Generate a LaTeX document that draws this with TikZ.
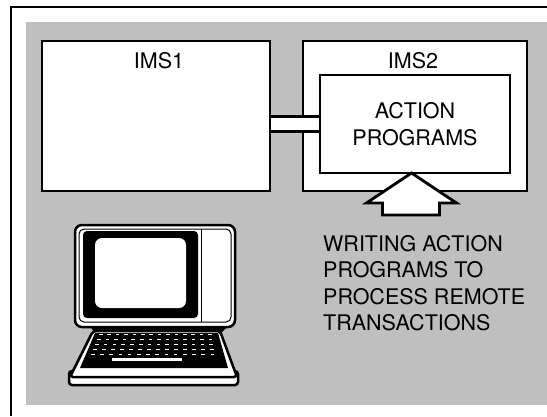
\documentclass[tikz,border=0pt]{standalone}
\usepackage{fontspec}
\setmainfont{TeX Gyre Heros}

\begin{document}
\begin{tikzpicture}[x=1pt,y=-1pt,
    box/.style={draw,fill=white,line width=2.8pt,inner sep=0pt,outer sep=0pt},
    lbl/.style={inner sep=0pt,font=\fontsize{21.5}{26.5}\selectfont},
    blockarrow/.style={draw,fill=white,line width=2.8pt,line join=miter},
  ]
    \useasboundingbox (0,0) rectangle (547,416);

    % screened panel and corner rule
    \fill[gray!50] (26,22) rectangle (547,405);
    \draw[line width=2pt] (11,416) -- (11,7) -- (547,7);

    \node (ims1) [box,minimum width=228pt,minimum height=150pt] at (156,116) {};
    \node (ims2) [box,minimum width=224pt,minimum height=150pt] at (415,116) {};
    \node (action) [box,lbl,align=center,minimum width=190pt,minimum height=98pt] at (415,124) {ACTION\\PROGRAMS};

    \node (ims1lbl) [lbl,anchor=north] at ([xshift=3pt,yshift=-11pt]ims1.north) {IMS1};
    \node (ims2lbl) [lbl,anchor=north] at ([xshift=-2pt,yshift=-11pt]ims2.north) {IMS2};

    % link from IMS1 into the action programs
    \coordinate (bar) at (0,124);
    \draw[line width=2.8pt,double=white,double distance=12.5pt,shorten <=1.4pt,shorten >=1.4pt]
      (ims1.east |- bar) -- (action.west |- bar);

    \node (caption) [lbl,anchor=north west,align=left] at (323,235)
      {WRITING ACTION\\PROGRAMS TO\\PROCESS REMOTE\\TRANSACTIONS};

    \coordinate (tip) at ([xshift=-3.5pt]action.south);
    \draw[blockarrow] (tip) -- ++(45,30) -- ++(-17,0) -- ++(0,12) -- ++(-57,0)
      -- ++(0,-12) -- ++(-16,0) -- cycle;

    % terminal
    \draw[line width=2.5pt,fill=white,rounded corners=7pt] (75,225) rectangle (235,327);
    \draw[line width=1pt,rounded corners=5pt] (79,229) rectangle (231,322);
    \fill[black,rounded corners=4pt] (83,231) rectangle (198,318);
    \fill[white,rounded corners=7pt] (95,238) rectangle (186,308);
    \draw[line width=1pt] (201,229) -- (201,322);
    \fill[black] (90,326) -- (228,326) -- (221,333) -- (95,333) -- cycle;

    \draw[line width=2.5pt,fill=white,rounded corners=3pt] (69,371) rectangle (238,385);
    \draw[line width=2.5pt,fill=white,rounded corners=3pt]
      (93,331) -- (220,331) -- (237,377) -- (70,377) -- cycle;
    \fill[black] (95,333) -- (218,333) -- (228,368) -- (80,368) -- cycle;
    \foreach \j in {0,...,4} {
      \foreach \i in {0,...,13} {
        \fill[white] (99-2*\j+8.4*\i+0.2*\j*\i, 335+5*\j) rectangle ++(3.5,-1.4);
      }
    }
    \fill[white] (112,358) rectangle (182,361);
\end{tikzpicture}
\end{document}
